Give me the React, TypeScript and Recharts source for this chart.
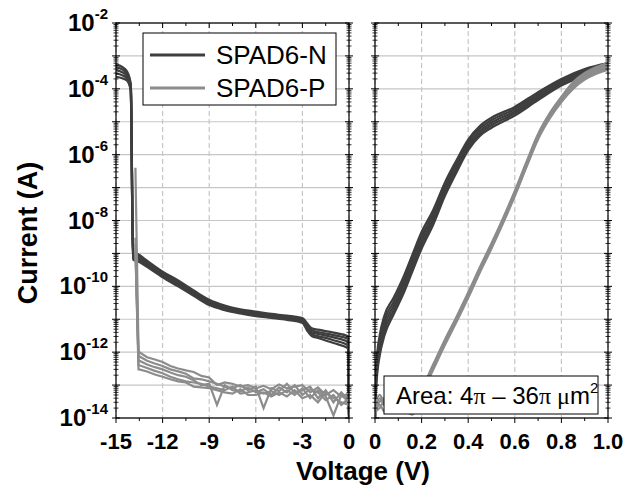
import React from "react";
import { LineChart, Line, XAxis, YAxis, CartesianGrid } from "recharts";

const FONT = "'Liberation Sans', Arial, Helvetica, sans-serif";
const DARK = "#3e3e3e";
const LIGHT = "#8c8c8c";
const GRID = "#c6c6c6";

const PLOT_TOP = 23;
const PLOT_H = 395;
const PLOT_BOTTOM = PLOT_TOP + PLOT_H;
const PLOT_W = 233;
const DECADE = PLOT_H / 12;

const decadeTicks = [1e-14, 1e-13, 1e-12, 1e-11, 1e-10, 1e-9, 1e-8, 1e-7, 1e-6, 1e-5, 1e-4, 1e-3, 1e-2];
const reverseTicks = [-15, -12, -9, -6, -3, 0];
const forwardTicks = [0, 0.2, 0.4, 0.6, 0.8, 1.0];

// reverse bias, SPAD6-N
const revNx = [-15, -14.6, -14.3, -14.05, -13.9, -13.5, -13, -12, -11, -10, -9, -8, -7, -6, -5, -4, -3, -2.7, -2.4, -2, -1, -0.05, 0];
const revN1 = [5.5e-4, 4.6e-4, 3.4e-4, 1.4e-4, 1.1e-9, 9.0e-10, 6.0e-10, 2.8e-10, 1.5e-10, 7.5e-11, 3.9e-11, 2.6e-11, 2.0e-11, 1.7e-11, 1.45e-11, 1.28e-11, 1.08e-11, 7.5e-12, 5.3e-12, 4.8e-12, 3.9e-12, 3.0e-12, 1.5e-14];
const revN2 = [4.6e-4, 3.9e-4, 2.9e-4, 1.25e-4, 9.5e-10, 8.0e-10, 5.4e-10, 2.5e-10, 1.35e-10, 6.8e-11, 3.5e-11, 2.4e-11, 1.85e-11, 1.55e-11, 1.35e-11, 1.2e-11, 1.0e-11, 6.6e-12, 4.6e-12, 4.1e-12, 3.3e-12, 2.5e-12, 1.3e-14];
const revN3 = [3.7e-4, 3.2e-4, 2.5e-4, 1.1e-4, 8.5e-10, 7.0e-10, 4.8e-10, 2.25e-10, 1.2e-10, 6.2e-11, 3.2e-11, 2.2e-11, 1.7e-11, 1.45e-11, 1.25e-11, 1.1e-11, 9.2e-12, 5.8e-12, 4.0e-12, 3.6e-12, 2.8e-12, 2.0e-12, 1.2e-14];
const revN4 = [2.9e-4, 2.6e-4, 2.1e-4, 1.0e-4, 7.5e-10, 6.2e-10, 4.3e-10, 2.05e-10, 1.1e-10, 5.6e-11, 2.95e-11, 2.05e-11, 1.6e-11, 1.35e-11, 1.17e-11, 1.03e-11, 8.5e-12, 5.2e-12, 3.5e-12, 3.1e-12, 2.3e-12, 1.6e-12, 1.1e-14];
const revN5 = [2.3e-4, 2.1e-4, 1.8e-4, 9.0e-5, 6.5e-10, 5.5e-10, 3.9e-10, 1.9e-10, 1.0e-10, 5.2e-11, 2.7e-11, 1.9e-11, 1.5e-11, 1.25e-11, 1.1e-11, 9.6e-12, 7.8e-12, 4.6e-12, 3.1e-12, 2.7e-12, 1.9e-12, 1.3e-12, 1.0e-14];

// reverse bias, SPAD6-P
const revPx = [-13.75, -13.55, -13.5, -13, -12.5, -12, -11.5, -11, -10.5, -10, -9.5, -9, -8.5, -8, -7.5, -7, -6.5, -6, -5.5, -5, -4.5, -4, -3.5, -3, -2.5, -2, -1.5, -1, -0.5, 0];
const revP1 = [4e-7, 1.1e-12, 1.0e-12, 7e-13, 6e-13, 5e-13, 3.8e-13, 3.2e-13, 2.8e-13, 2.5e-13, 1.9e-13, 1.7e-13, 1.0e-13, 1.2e-13, 1.1e-13, 9e-14, 1.0e-13, 8e-14, 9.5e-14, 7.5e-14, 1.05e-13, 8e-14, 9e-14, 1.0e-13, 6e-14, 8.5e-14, 5e-14, 7e-14, 4.5e-14, 5.5e-14];
const revP2 = [3e-9, 8e-13, 7.5e-13, 5.5e-13, 4.5e-13, 3.8e-13, 3e-13, 2.6e-13, 2.2e-13, 1.6e-13, 1.5e-13, 1.3e-13, 1.1e-13, 9e-14, 8e-14, 1.0e-13, 7e-14, 9e-14, 2e-14, 8e-14, 6.5e-14, 1.1e-13, 6e-14, 7e-14, 9e-14, 4e-14, 7e-14, 3e-14, 6e-14, 3.5e-14];
const revP3 = [2e-9, 5.5e-13, 5.5e-13, 4.2e-13, 3.5e-13, 3e-13, 2.4e-13, 2e-13, 1.8e-13, 1.4e-13, 1.0e-13, 1.1e-13, 2.5e-14, 1.0e-13, 7e-14, 6.5e-14, 8.5e-14, 6e-14, 7.5e-14, 5e-14, 8.5e-14, 6e-14, 1.0e-13, 5e-14, 7.5e-14, 6e-14, 3.5e-14, 5e-14, 2.5e-14, 4e-14];
const revP4 = [1.5e-9, 4e-13, 4e-13, 3.3e-13, 2.7e-13, 2.3e-13, 1.8e-13, 1.5e-13, 1.3e-13, 1.2e-13, 1.1e-13, 9e-14, 8e-14, 7e-14, 9e-14, 5.5e-14, 6e-14, 7e-14, 5.5e-14, 6.5e-14, 5e-14, 7e-14, 5e-14, 8e-14, 4e-14, 7e-14, 4.5e-14, 1.2e-14, 5e-14, 3e-14];
const revP5 = [1.2e-9, 3e-13, 3e-13, 2.6e-13, 2.1e-13, 1.8e-13, 1.5e-13, 1.3e-13, 1.2e-13, 9e-14, 8.5e-14, 8e-14, 7e-14, 6e-14, 5.5e-14, 7.5e-14, 5e-14, 5e-14, 6e-14, 4.5e-14, 6e-14, 4.5e-14, 7e-14, 4e-14, 5e-14, 3e-14, 6e-14, 4e-14, 3e-14, 2.5e-14];

// forward bias, SPAD6-N
const fwdNx = [0, 0.004, 0.01, 0.02, 0.04, 0.08, 0.12, 0.16, 0.2, 0.25, 0.3, 0.35, 0.4, 0.45, 0.5, 0.6, 0.7, 0.8, 0.9, 1.0];
const fwdN1 = [1.26e-14, 2.51e-13, 1.0e-12, 3.16e-12, 1.26e-11, 4.47e-11, 1.78e-10, 8.91e-10, 4.47e-9, 2.09e-8, 1.41e-7, 6.76e-7, 2.88e-6, 7.41e-6, 1.32e-5, 2.82e-5, 7.94e-5, 2.0e-4, 3.98e-4, 6.03e-4];
const fwdN2 = [1.12e-14, 1.78e-13, 7.08e-13, 2.24e-12, 8.91e-12, 3.35e-11, 1.33e-10, 6.68e-10, 3.35e-9, 1.62e-8, 1.12e-7, 5.5e-7, 2.4e-6, 6.24e-6, 1.11e-5, 2.43e-5, 6.92e-5, 1.78e-4, 3.55e-4, 5.5e-4];
const fwdN3 = [1.0e-14, 1.26e-13, 5.01e-13, 1.58e-12, 6.31e-12, 2.51e-11, 1.0e-10, 5.01e-10, 2.51e-9, 1.26e-8, 8.91e-8, 4.47e-7, 2.0e-6, 5.25e-6, 9.33e-6, 2.09e-5, 6.03e-5, 1.58e-4, 3.16e-4, 5.01e-4];
const fwdN4 = [1.0e-14, 8.91e-14, 3.55e-13, 1.12e-12, 4.47e-12, 1.88e-11, 7.5e-11, 3.76e-10, 1.88e-9, 9.77e-9, 7.08e-8, 3.63e-7, 1.66e-6, 4.42e-6, 7.85e-6, 1.8e-5, 5.25e-5, 1.41e-4, 2.82e-4, 4.57e-4];
const fwdN5 = [1.0e-14, 6.31e-14, 2.51e-13, 7.94e-13, 3.16e-12, 1.41e-11, 5.62e-11, 2.82e-10, 1.41e-9, 7.59e-9, 5.62e-8, 2.95e-7, 1.38e-6, 3.72e-6, 6.61e-6, 1.55e-5, 4.57e-5, 1.26e-4, 2.51e-4, 4.17e-4];

// forward bias, SPAD6-P
const fwdPx = [0, 0.02, 0.04, 0.06, 0.08, 0.1, 0.13, 0.16, 0.2, 0.25, 0.3, 0.35, 0.4, 0.45, 0.5, 0.55, 0.6, 0.65, 0.7, 0.75, 0.8, 0.85, 0.9, 0.95, 1.0];
const fwdP1 = [2.51e-14, 5.01e-14, 3.16e-14, 5.01e-14, 2.51e-14, 3.98e-14, 3.16e-14, 3.16e-14, 7.59e-14, 4.27e-13, 2.4e-12, 1.2e-11, 6.46e-11, 3.8e-10, 2.04e-9, 1.2e-8, 7.94e-8, 6.03e-7, 4.27e-6, 1.82e-5, 5.75e-5, 1.58e-4, 3.02e-4, 4.57e-4, 6.03e-4];
const fwdP2 = [1.26e-14, 3.16e-14, 3.98e-14, 2.51e-14, 3.16e-14, 2.0e-14, 3.98e-14, 2.51e-14, 6.92e-14, 3.89e-13, 2.19e-12, 1.1e-11, 5.89e-11, 3.47e-10, 1.86e-9, 1.1e-8, 7.24e-8, 5.5e-7, 3.89e-6, 1.66e-5, 5.25e-5, 1.41e-4, 2.69e-4, 4.07e-4, 5.37e-4];
const fwdP3 = [2.0e-14, 2.51e-14, 1.58e-14, 3.98e-14, 2.0e-14, 3.16e-14, 2.0e-14, 1.58e-14, 6.31e-14, 3.55e-13, 2.0e-12, 1.0e-11, 5.37e-11, 3.16e-10, 1.7e-9, 1.0e-8, 6.61e-8, 5.01e-7, 3.55e-6, 1.51e-5, 4.79e-5, 1.26e-4, 2.4e-4, 3.63e-4, 4.79e-4];
const fwdP4 = [1.0e-14, 3.98e-14, 2.51e-14, 3.16e-14, 1.58e-14, 2.51e-14, 3.16e-14, 2.0e-14, 5.75e-14, 3.24e-13, 1.82e-12, 9.12e-12, 4.9e-11, 2.88e-10, 1.55e-9, 9.12e-9, 6.03e-8, 4.57e-7, 3.24e-6, 1.38e-5, 4.37e-5, 1.12e-4, 2.14e-4, 3.24e-4, 4.27e-4];
const fwdP5 = [1.58e-14, 2.0e-14, 3.16e-14, 2.0e-14, 2.51e-14, 1.58e-14, 1.58e-14, 1.26e-14, 5.25e-14, 2.95e-13, 1.66e-12, 8.32e-12, 4.47e-11, 2.63e-10, 1.41e-9, 8.32e-9, 5.5e-8, 4.17e-7, 2.95e-6, 1.26e-5, 3.98e-5, 1.0e-4, 1.91e-4, 2.88e-4, 3.8e-4];

const toPoints = (xs: number[], ys: number[]) => ys.map((y, i) => ({ x: xs[i], y }));

const revN = [revN1, revN2, revN3, revN4, revN5].map((ys) => toPoints(revNx, ys));
const revP = [revP1, revP2, revP3, revP4, revP5].map((ys) => toPoints(revPx, ys));
const fwdN = [fwdN1, fwdN2, fwdN3, fwdN4, fwdN5].map((ys) => toPoints(fwdNx, ys));
const fwdP = [fwdP1, fwdP2, fwdP3, fwdP4, fwdP5].map((ys) => toPoints(fwdPx, ys));

// log ticks on both sides of a panel, labels only on the left one
const YTick = ({ y, payload, plotLeft, labels }: any) => {
  const e = Math.round(Math.log10(payload.value));
  const plotRight = plotLeft + PLOT_W;
  const minors = e < -2 ? [2, 3, 4, 5, 6, 7, 8, 9].map((k) => y - Math.log10(k) * DECADE) : [];
  return (
    <g>
      <line x1={plotLeft - 4} x2={plotLeft + 4} y1={y} y2={y} stroke="#000" />
      <line x1={plotRight - 4} x2={plotRight + 4} y1={y} y2={y} stroke="#000" />
      {minors.map((my, i) => (
        <g key={i}>
          <line x1={plotLeft - 2.5} x2={plotLeft + 2.5} y1={my} y2={my} stroke="#000" strokeWidth={0.8} />
          <line x1={plotRight - 2.5} x2={plotRight + 2.5} y1={my} y2={my} stroke="#000" strokeWidth={0.8} />
        </g>
      ))}
      {labels && e % 2 === 0 && (
        <text x={plotLeft - 8} y={y + 8} textAnchor="end" fontFamily={FONT} fontWeight="bold" fill="#000">
          <tspan fontSize={24}>10</tspan>
          <tspan fontSize={15} dy={-12}>{e}</tspan>
        </text>
      )}
    </g>
  );
};

const XTick = ({ x, payload, last, decimals }: any) => {
  const half = PLOT_W / 10;
  const v = payload.value;
  const label = decimals && v !== 0 ? v.toFixed(1) : String(v);
  return (
    <g>
      <line x1={x} x2={x} y1={PLOT_BOTTOM} y2={PLOT_BOTTOM + 5} stroke="#000" />
      <line x1={x} x2={x} y1={PLOT_TOP} y2={PLOT_TOP + 5} stroke="#000" />
      {v !== last && (
        <g>
          <line x1={x + half} x2={x + half} y1={PLOT_BOTTOM} y2={PLOT_BOTTOM + 3} stroke="#000" />
          <line x1={x + half} x2={x + half} y1={PLOT_TOP} y2={PLOT_TOP + 3} stroke="#000" />
        </g>
      )}
      <text x={x} y={449} textAnchor="middle" fontFamily={FONT} fontWeight="bold" fontSize={22} fill="#000">
        {label}
      </text>
    </g>
  );
};

const curves = (nSet: any[], pSet: any[], pType: "linear" | "monotone") => [
  ...nSet.map((d, i) => (
    <Line key={`n${i}`} data={d} dataKey="y" type="monotone" stroke={DARK} strokeWidth={2.3} dot={false} isAnimationActive={false} />
  )),
  ...pSet.map((d, i) => (
    <Line key={`p${i}`} data={d} dataKey="y" type={pType} stroke={LIGHT} strokeWidth={2.2} dot={false} isAnimationActive={false} />
  )),
];

export default function App() {
  return (
    <div style={{ position: "absolute", left: 0, top: 0, width: 641, height: 487, background: "#fff" }}>
      <div style={{ position: "absolute", left: 0, top: 0 }}>
        <LineChart width={360} height={487} margin={{ top: PLOT_TOP, right: 11, bottom: 39, left: 56 }}>
          <CartesianGrid horizontal vertical={false} stroke={GRID} strokeWidth={1.2} />
          <CartesianGrid horizontal={false} vertical stroke={GRID} strokeWidth={1.2} strokeDasharray="5 3" />
          <XAxis
            type="number"
            dataKey="x"
            domain={[-15, 0]}
            ticks={reverseTicks}
            interval={0}
            allowDataOverflow
            axisLine={false}
            tickLine={false}
            height={30}
            tick={(p: any) => <XTick {...p} last={0} decimals={false} />}
          />
          <YAxis
            type="number"
            scale="log"
            domain={[1e-14, 1e-2]}
            ticks={decadeTicks}
            interval={0}
            allowDataOverflow
            axisLine={false}
            tickLine={false}
            width={60}
            tick={(p: any) => <YTick {...p} plotLeft={116} labels />}
          />
          {curves(revN, revP, "linear")}
        </LineChart>
      </div>
      <div style={{ position: "absolute", left: 340, top: 0 }}>
        <LineChart width={301} height={487} margin={{ top: PLOT_TOP, right: 33, bottom: 39, left: 0 }}>
          <CartesianGrid horizontal vertical={false} stroke={GRID} strokeWidth={1.2} />
          <CartesianGrid horizontal={false} vertical stroke={GRID} strokeWidth={1.2} strokeDasharray="5 3" />
          <XAxis
            type="number"
            dataKey="x"
            domain={[0, 1]}
            ticks={forwardTicks}
            interval={0}
            allowDataOverflow
            axisLine={false}
            tickLine={false}
            height={30}
            tick={(p: any) => <XTick {...p} last={1} decimals />}
          />
          <YAxis
            type="number"
            scale="log"
            domain={[1e-14, 1e-2]}
            ticks={decadeTicks}
            interval={0}
            allowDataOverflow
            axisLine={false}
            tickLine={false}
            width={35}
            tick={(p: any) => <YTick {...p} plotLeft={35} labels={false} />}
          />
          {curves(fwdN, fwdP, "monotone")}
        </LineChart>
      </div>
      <svg width={641} height={487} style={{ position: "absolute", left: 0, top: 0, pointerEvents: "none" }}>
        <rect x={116} y={PLOT_TOP} width={PLOT_W} height={PLOT_H} fill="none" stroke="#000" strokeWidth={1.2} />
        <rect x={375} y={PLOT_TOP} width={PLOT_W} height={PLOT_H} fill="none" stroke="#000" strokeWidth={1.2} />

        <rect x={143} y={33} width={193} height={72} fill="#fff" stroke="#000" strokeWidth={1} />
        <line x1={150} x2={205} y1={55} y2={55} stroke={DARK} strokeWidth={3} />
        <text x={216} y={64} fontFamily={FONT} fontSize={26} fill="#000">SPAD6-N</text>
        <line x1={150} x2={205} y1={88} y2={88} stroke={LIGHT} strokeWidth={3} />
        <text x={216} y={97} fontFamily={FONT} fontSize={26} fill="#000">SPAD6-P</text>

        <rect x={384} y={376} width={214} height={38} fill="#fff" stroke="#000" strokeWidth={1} />
        <text x={396} y={404} fontFamily={FONT} fontSize={24} fill="#000">
          Area: 4<tspan fontFamily="'Liberation Serif', serif">π</tspan> – 36<tspan fontFamily="'Liberation Serif', serif">π μ</tspan>m
          <tspan fontSize={15} dy={-11}>2</tspan>
        </text>

        <text x={363} y={480} textAnchor="middle" fontFamily={FONT} fontWeight="bold" fontSize={26} fill="#000">
          Voltage (V)
        </text>
        <text
          transform="translate(37,233) rotate(-90)"
          textAnchor="middle"
          fontFamily={FONT}
          fontWeight="bold"
          fontSize={27}
          fill="#000"
        >
          Current (A)
        </text>
      </svg>
    </div>
  );
}
